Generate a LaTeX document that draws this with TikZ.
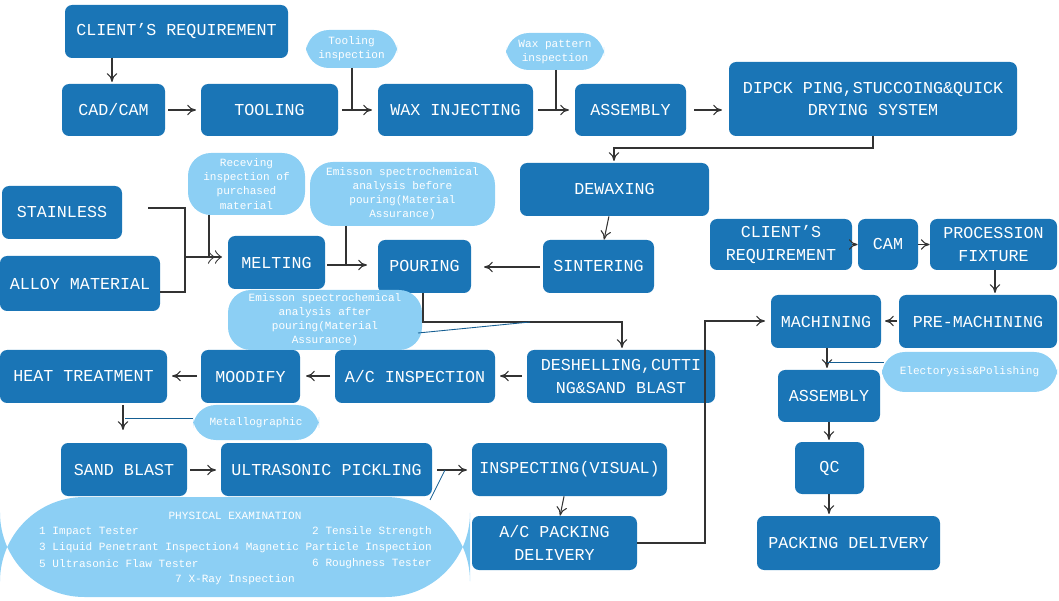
\documentclass[tikz,border=0pt]{standalone}
\usepackage{fontspec}
\setmainfont{Liberation Mono}
\usetikzlibrary{arrows.meta}
\definecolor{dk}{HTML}{1A75B6}
\definecolor{lt}{HTML}{8CCFF4}
\definecolor{ln}{HTML}{333333}
\begin{document}
\begin{tikzpicture}[x=0.02cm,y=-0.02cm,
 box/.style={fill=dk,rounded corners=4pt,text=white,font=\fontsize{9.5}{13}\selectfont,align=center,inner sep=0pt},
 bub/.style={fill=lt,rounded corners=13pt,text=white,font=\fontsize{6.3}{8}\selectfont,align=center,inner sep=0pt},
 ar/.style={draw=ln,-{To[length=5pt,width=6pt]},line width=0.6pt},
 li/.style={draw=ln,line width=0.6pt},
 bl/.style={draw=dk!80!black,line width=0.5pt}]
\useasboundingbox (0,0) rectangle (1059,601);
\newcommand{\bx}[7][box]{\node[#1,minimum width=(#5-#3)*0.02cm,minimum height=(#6-#4)*0.02cm] (#2) at ({(#3+#5)/2},{(#4+#6)/2}) {#7};}
\bx{req1}{65}{5}{288}{58}{CLIENT'S REQUIREMENT}
\bx{cad}{62}{84}{165}{136}{CAD/CAM}
\bx{tool}{201}{84}{338}{136}{TOOLING}
\bx{wax}{378}{84}{533}{136}{WAX INJECTING}
\bx{asm1}{575}{84}{686}{136}{ASSEMBLY}
\bx{dip}{729}{62}{1017}{136}{DIPCK PING,STUCCOING\&QUICK\\DRYING SYSTEM}
\bx{dewax}{520}{163}{709}{216}{DEWAXING}
\bx{stain}{2}{186}{122}{239}{STAINLESS}
\bx{alloy}{0}{256}{160}{311}{ALLOY MATERIAL}
\bx{melt}{228}{236}{325}{289}{MELTING}
\bx{pour}{378}{240}{471}{293}{POURING}
\bx{sint}{543}{240}{654}{293}{SINTERING}
\bx{cl2}{710}{219}{852}{270}{CLIENT'S\\REQUIREMENT}
\bx{cam}{858}{219}{918}{270}{CAM}
\bx{proc}{930}{219}{1057}{270}{PROCESSION\\FIXTURE}
\bx{mach}{771}{295}{881}{348}{MACHINING}
\bx{pre}{899}{295}{1057}{348}{PRE-MACHINING}
\bx{desh}{527}{350}{715}{403}{DESHELLING,CUTTI\\NG\&SAND BLAST}
\bx{acin}{335}{350}{495}{403}{A/C INSPECTION}
\bx{mood}{201}{350}{300}{403}{MOODIFY}
\bx{heat}{0}{350}{167}{403}{HEAT TREATMENT}
\bx{asm2}{778}{370}{880}{422}{ASSEMBLY}
\bx{qc}{795}{442}{864}{494}{QC}
\bx{pack}{757}{516}{940}{570}{PACKING DELIVERY}
\bx{sand}{61}{443}{187}{496}{SAND BLAST}
\bx{ultra}{221}{443}{432}{496}{ULTRASONIC PICKLING}
\bx{vis}{472}{443}{667}{496}{INSPECTING(VISUAL)}
\bx{acp}{472}{516}{637}{570}{A/C PACKING\\DELIVERY}
\bx[bub]{tin}{306}{30}{397}{68}{Tooling\\inspection}
\bx[bub]{win}{506}{33}{604}{70}{Wax pattern\\inspection}
\bx[bub]{rec}{188}{153}{305}{215}{Receving\\inspection of\\purchased\\material}
\bx[bub]{emb}{310}{162}{495}{226}{Emisson spectrochemical\\analysis before\\pouring(Material\\Assurance)}
\bx[bub]{ema}{228}{290}{422}{350}{Emisson spectrochemical\\analysis after\\pouring(Material\\Assurance)}
\bx[bub]{ele}{882}{352}{1057}{392}{Electorysis\&Polishing}
\bx[bub]{met}{193}{405}{319}{440}{Metallographic}
\node[fill=lt,rounded corners=48pt,minimum width=470*0.02cm,minimum height=100*0.02cm] (phys) at (235,547) {};
\begin{scope}[text=white,font=\fontsize{6.3}{8}\selectfont]
\node (p0) at (235,516) {PHYSICAL EXAMINATION};
\node[anchor=west] (p1) at (33,532) {1 Impact Tester};
\node[anchor=east] (p2) at (438,532) {2 Tensile Strength};
\node[anchor=west] (p3) at (33,548) {3 Liquid Penetrant Inspection};
\node[anchor=east] (p4) at (438,548) {4 Magnetic Particle Inspection};
\node[anchor=west] (p5) at (33,564) {5 Ultrasonic Flaw Tester};
\node[anchor=east] (p6) at (438,564) {6 Roughness Tester};
\node (p7) at (235,580) {7 X-Ray Inspection};
\end{scope}
% top row
\draw[ar] (112,58) -- (112,82);
\draw[ar] (168,110) -- (196,110);
\draw[ar] (342,110) -- (372,110);
\draw[ar] (538,110) -- (569,110);
\draw[ar] (694,110) -- (722,110);
\draw[li] (352,68) -- (352,110);
\draw[li] (556,70) -- (556,110);
\draw[ar] (873,136) -- (873,148) -- (614,148) -- (614,161);
\draw[ar] (dewax) -- (sint);
\draw[ar] (540,267) -- (484,267);
% materials
\draw[li] (148,208) -- (185,208) -- (185,292) -- (160,292);
\draw[draw=ln,-{Classical TikZ Rightarrow[length=4pt]Classical TikZ Rightarrow[length=4pt]},line width=0.6pt] (185,257) -- (222,257);
\draw[li] (209,215) -- (209,257);
\draw[ar] (327,265) -- (367,265);
\draw[li] (346,226) -- (346,265);
\draw[ar] (423,293) -- (423,322) -- (622,322) -- (622,348);
\draw[bl] (418,333) -- (530,322);
% middle row
\draw[ar] (522,376) -- (500,376);
\draw[ar] (330,376) -- (306,376);
\draw[ar] (197,376) -- (172,376);
\draw[ar] (123,405) -- (123,430);
\draw[bl] (125,418) -- (193,418);
% bottom
\draw[ar] (190,470) -- (216,470);
\draw[ar] (437,470) -- (467,470);
\draw[bl] (430,500) -- (445,470);
\draw[ar] (vis) -- (acp);
\draw[ar] (637,543) -- (705,543) -- (705,321) -- (765,321);
% right
\draw[ar] (cl2) -- (cam);
\draw[ar] (cam) -- (proc);
\draw[ar] (995,270) -- (995,293);
\draw[ar] (897,321) -- (885,321);
\draw[ar] (827,348) -- (827,368);
\draw[bl] (827,362) -- (884,362);
\draw[ar] (829,422) -- (829,440);
\draw[ar] (829,494) -- (829,514);
\end{tikzpicture}
\end{document}
